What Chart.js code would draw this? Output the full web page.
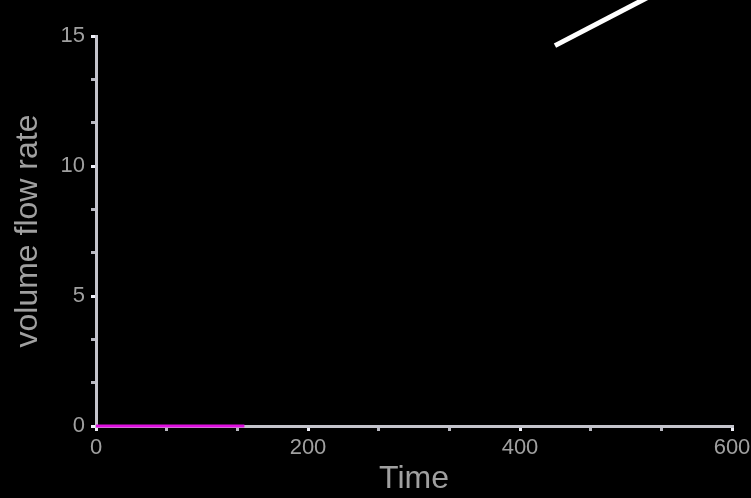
<!DOCTYPE html>
<html>
<head>
<meta charset="utf-8">
<script src="https://cdn.jsdelivr.net/npm/chart.js@4.4.0/dist/chart.umd.min.js"></script>
<style>
  html, body { margin: 0; padding: 0; background: #000; }
  #wrap { width: 751px; height: 498px; }
</style>
</head>
<body>
<div id="wrap"><canvas id="flowChart"></canvas></div>
<script>
const xMajor = [0, 200, 400, 600];
const yMajor = [0, 5, 10, 15];
const minorSteps = 3;

const pinkX = [0, 140];
const pinkY = [0, 0];
const whiteX = [433, 600];
const whiteY = [14.63, 18.17];

function withMinor(major) {
  let out = [];
  for (let i = 0; i < major.length - 1; i++) {
    let step = (major[i + 1] - major[i]) / minorSteps;
    for (let k = 0; k < minorSteps; k++) out.push({ value: major[i] + k * step });
  }
  out.push({ value: major[major.length - 1] });
  return out;
}

function isMajor(v, major) {
  return major.some(m => Math.abs(m - v) < 1e-6);
}

const AXIS = '#c4c4cc';
const LABEL = '#a0a0a0';
const FONT = 'Liberation Sans, Arial, sans-serif';

let flowChart = new Chart(document.getElementById('flowChart'), {
  type: 'line',
  data: {
    datasets: [{
      data: pinkX.map((x, i) => ({ x: x, y: pinkY[i] })),
      borderColor: '#e010e0',
      borderWidth: 3,
      pointRadius: 0,
      clip: false
    }, {
      data: whiteX.map((x, i) => ({ x: x, y: whiteY[i] })),
      borderColor: '#ffffff',
      borderWidth: 5,
      pointRadius: 0,
      borderCapStyle: 'butt',
      clip: false
    }]
  },
  options: {
    responsive: true,
    maintainAspectRatio: false,
    animation: false,
    events: [],
    layout: { padding: { top: 36, right: 19, left: 0, bottom: 0 } },
    plugins: { legend: { display: false }, tooltip: { enabled: false } },
    scales: {
      x: {
        type: 'linear',
        min: 0,
        max: 600,
        afterBuildTicks: s => { s.ticks = withMinor(xMajor); },
        afterFit: s => { s.height = 72; s.paddingRight = 0; s.paddingLeft = 0; },
        border: { color: AXIS, width: 3 },
        grid: {
          drawOnChartArea: false,
          tickLength: 5,
          lineWidth: 3,
          color: c => isMajor(c.tick.value, xMajor) ? '#f0f0f8' : '#b8b8c0'
        },
        ticks: {
          color: LABEL,
          padding: 4,
          maxRotation: 0,
          autoSkip: false,
          font: { family: FONT, size: 22 },
          callback: v => isMajor(v, xMajor) ? Math.round(v) : ''
        },
        title: {
          display: true,
          text: 'Time',
          color: LABEL,
          font: { family: FONT, size: 32 },
          padding: { top: 2, bottom: 0 }
        }
      },
      y: {
        type: 'linear',
        min: 0,
        max: 15,
        afterBuildTicks: s => { s.ticks = withMinor(yMajor); },
        afterFit: s => { s.width = 96; },
        border: { color: AXIS, width: 3 },
        grid: {
          drawOnChartArea: false,
          tickLength: 5,
          lineWidth: 3,
          color: c => isMajor(c.tick.value, yMajor) ? '#f0f0f8' : '#b8b8c0'
        },
        ticks: {
          color: LABEL,
          padding: 6,
          autoSkip: false,
          font: { family: FONT, size: 22 },
          callback: v => isMajor(v, yMajor) ? Math.round(v) : ''
        },
        title: {
          display: true,
          text: 'volume flow rate',
          color: LABEL,
          font: { family: FONT, size: 32 },
          padding: { top: 9, bottom: 0 }
        }
      }
    }
  }
});
</script>
</body>
</html>
